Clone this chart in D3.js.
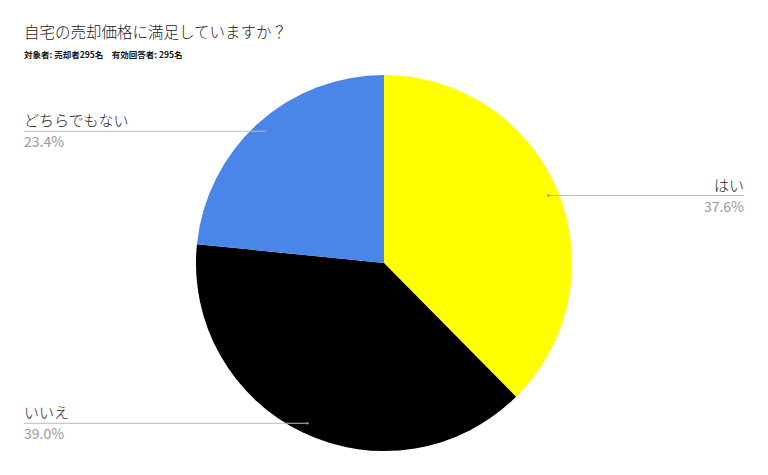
<!DOCTYPE html>
<html>
<head>
<meta charset="utf-8">
<script src="https://cdn.jsdelivr.net/npm/d3@7"></script>
<style>
	body { margin: 0; background: #fff; }
	text { font-family: "Noto Sans CJK JP", "Noto Sans", sans-serif; }
</style>
</head>
<body>
<div id="chart"></div>
<script>
var labels = ["はい", "いいえ", "どちらでもない"];
var values = [37.6, 39.0, 23.4];
var colors = ["#ffff00", "#000000", "#4a86e8"];

var width = 768, height = 475;
var cx = 384, cy = 263, r = 188;

var svg = d3.select("#chart").append("svg")
	.attr("width", width)
	.attr("height", height);

svg.append("text")
	.attr("x", 24).attr("y", 38)
	.attr("font-size", "15.5px")
	.attr("font-weight", 300)
	.attr("fill", "#222")
	.text("自宅の売却価格に満足していますか？");

svg.append("text")
	.attr("x", 24).attr("y", 58)
	.attr("font-size", "8.5px")
	.attr("font-weight", "bold")
	.attr("fill", "#111")
	.text("対象者: 売却者295名　有効回答者: 295名");

var pie = d3.pie().sort(null).value(function(d) { return d; });
var arcs = pie(values);

var arc = d3.arc().innerRadius(0).outerRadius(r);
var g = svg.append("g").attr("transform", "translate(" + cx + "," + cy + ")");

g.selectAll("path")
	.data(arcs)
	.enter().append("path")
	.attr("d", arc)
	.attr("fill", function(d, i) { return colors[i]; });

// leader lines + labels
var lr = r * 0.945;
arcs.forEach(function(d, i) {
	var a = (d.startAngle + d.endAngle) / 2;
	var px = cx + Math.sin(a) * lr;
	var py = cy - Math.cos(a) * lr;
	var right = Math.sin(a) > 0;
	var tx = right ? 744 : 24;

	svg.append("line")
		.attr("x1", px).attr("y1", py)
		.attr("x2", tx).attr("y2", py)
		.attr("stroke", "#bbb")
		.attr("stroke-width", 1);
	svg.append("circle")
		.attr("cx", px).attr("cy", py).attr("r", 1.2)
		.attr("fill", "#999");

	svg.append("text")
		.attr("x", tx).attr("y", py - 5)
		.attr("text-anchor", right ? "end" : "start")
		.attr("font-size", "15px")
		.attr("font-weight", 300)
		.attr("fill", "#222")
		.text(labels[i]);
	svg.append("text")
		.attr("x", tx).attr("y", py + 16)
		.attr("text-anchor", right ? "end" : "start")
		.attr("font-size", "14px")
		.attr("font-family", "Roboto, sans-serif")
		.attr("fill", "#999")
		.text(values[i].toFixed(1) + "%");
});
</script>
</body>
</html>
